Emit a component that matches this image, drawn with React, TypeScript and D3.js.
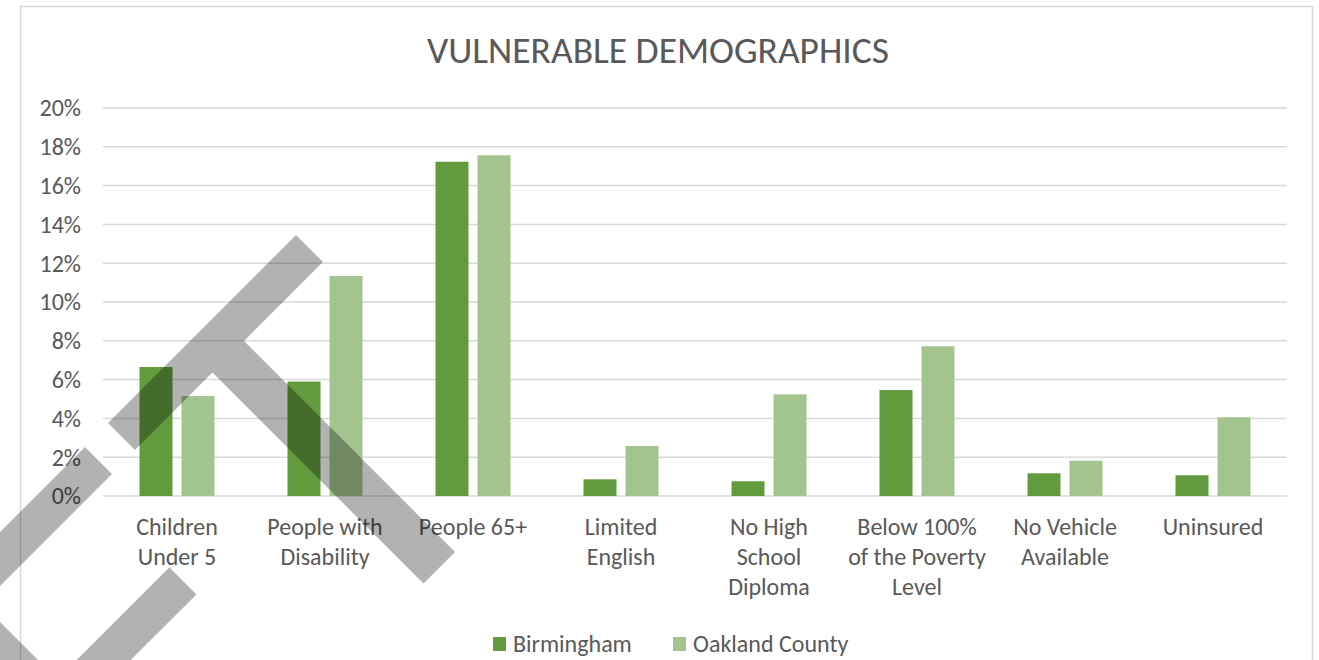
import React from "react";
import * as d3 from "d3";

const categories: string[][] = [
  ["Children", "Under 5"],
  ["People with", "Disability"],
  ["People 65+"],
  ["Limited", "English"],
  ["No High", "School", "Diploma"],
  ["Below 100%", "of the Poverty", "Level"],
  ["No Vehicle", "Available"],
  ["Uninsured"],
];
const seriesNames = ["Birmingham", "Oakland County"];
const birmingham = [6.65, 5.9, 17.23, 0.86, 0.76, 5.46, 1.17, 1.07];
const oakland = [5.15, 11.34, 17.56, 2.58, 5.24, 7.72, 1.82, 4.06];
const yTicks = [0, 2, 4, 6, 8, 10, 12, 14, 16, 18, 20];
const title = "VULNERABLE DEMOGRAPHICS";

const W = 1319;
const H = 660;
const colors = ["#629B3E", "#A3C48F"];
const textColor = "#595959";
const gridColor = "#d9d9d9";
const font = "Calibri, Carlito, Lato, sans-serif";

// decorative semi-transparent overlay seen in the reference
const overlay = [
  "M108,423 L296,235 L323,262 L244,341 L455,552 L423.5,583.5 L212.5,372.5 L135,450 Z",
  "M85,447 L112,474 L0,586 L0,532 Z",
  "M169.3,567.3 L196.4,594.4 L130.7,660 L76.6,660 Z",
  "M0,622 L38,660 L0,660 Z",
];

export default function App() {
  const keys = categories.map((c) => c.join(" "));
  const x0 = d3
    .scaleBand<string>()
    .domain(keys)
    .range([103, 1287])
    .paddingInner(73 / 148)
    .paddingOuter(36.5 / 148);
  const x1 = d3
    .scaleBand<string>()
    .domain(seriesNames)
    .range([0, x0.bandwidth()])
    .paddingInner(9 / 42);
  const y = d3.scaleLinear().domain([0, 20]).range([496, 108]);
  const seriesValues = [birmingham, oakland];

  return (
    <div style={{ position: "absolute", left: 0, top: 0 }}>
      <svg width={W} height={H} style={{ display: "block", background: "#fff" }}>
        <rect x={20.5} y={6.5} width={1292} height={700} fill="#fff" stroke={gridColor} strokeWidth={1.5} />
        <text
          x={658}
          y={63}
          textAnchor="middle"
          fill={textColor}
          fontFamily={font}
          fontSize={37.5}
        >
          {title}
        </text>
        {yTicks.map((t) => (
          <g key={t}>
            <line x1={103} x2={1287} y1={y(t)} y2={y(t)} stroke={gridColor} strokeWidth={1.5} />
            <text
              x={81}
              y={y(t)}
              dy="0.35em"
              textAnchor="end"
              fill={textColor}
              fontFamily={font}
              fontSize={24}
            >
              {t}%
            </text>
          </g>
        ))}
        {seriesValues.map((vals, si) => (
          <g key={si}>
            {vals.map((v, i) => (
              <rect
                key={i}
                x={(x0(keys[i]) as number) + (x1(seriesNames[si]) as number)}
                y={y(v)}
                width={x1.bandwidth()}
                height={y(0) - y(v)}
                fill={colors[si]}
              />
            ))}
          </g>
        ))}
        {categories.map((lines, i) => {
          const cx = (x0(keys[i]) as number) + x0.bandwidth() / 2;
          return (
            <text
              key={i}
              textAnchor="middle"
              fill={textColor}
              fontFamily={font}
              fontSize={24}
            >
              {lines.map((l, j) => (
                <tspan key={j} x={cx} y={535 + j * 30}>
                  {l}
                </tspan>
              ))}
            </text>
          );
        })}
        <g>
          {seriesNames.map((s, i) => {
            const lx = i === 0 ? 493 : 673;
            return (
              <g key={s}>
                <rect x={lx} y={637} width={13} height={14} fill={colors[i]} />
                <text x={lx + 20} y={652} fill={textColor} fontFamily={font} fontSize={24}>
                  {s}
                </text>
              </g>
            );
          })}
        </g>
        {overlay.map((d, i) => (
          <path key={i} d={d} fill="#000" fillOpacity={0.3} />
        ))}
      </svg>
    </div>
  );
}
